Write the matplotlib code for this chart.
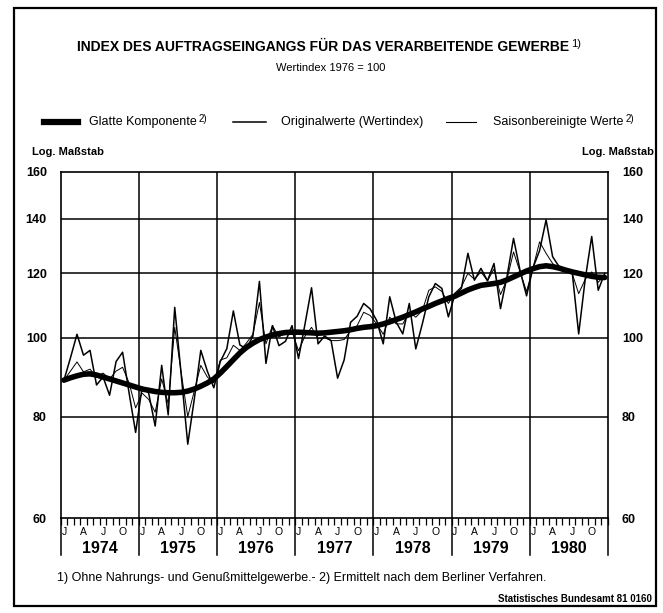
import matplotlib
matplotlib.use("Agg")
import matplotlib.pyplot as plt
import matplotlib.transforms as mtransforms
import numpy as np

plt.rcParams['font.family'] = ['Liberation Sans', 'DejaVu Sans']

years = [1974, 1975, 1976, 1977, 1978, 1979, 1980]
month_letters = ['J', 'A', 'J', 'O']

original = [
    88.7, 94.5, 101.0, 95.2, 96.5, 87.5, 89.5, 85.0, 93.5, 96.0, 85.5, 76.5,
    87.0, 85.5, 77.9, 92.5, 80.4, 109.0, 90.0, 74.0, 84.0, 96.5, 91.0, 86.8,
    93.5, 97.0, 107.9, 98.0, 96.9, 100.5, 117.3, 93.0, 103.5, 97.8, 99.0, 103.5,
    94.3, 104.0, 115.2, 98.3, 100.5, 99.2, 89.2, 93.9, 104.5, 106.3, 110.2, 108.5,
    105.0, 98.3, 112.3, 104.5, 101.1, 110.2, 96.9, 104.0, 112.3, 116.6, 115.0, 106.1,
    113.0, 115.0, 127.0, 117.7, 121.7, 117.5, 123.4, 108.6, 119.0, 132.5, 121.0, 112.6,
    122.0, 128.0, 139.6, 125.8, 122.3, 121.1, 120.5, 101.1, 118.0, 133.2, 114.4, 120.0,
]
seasonal = [
    88.7, 91.0, 93.4, 90.8, 91.5, 89.5, 90.5, 89.0, 91.0, 92.0, 88.0, 82.0,
    85.5, 84.0, 81.0, 89.0, 83.0, 103.0, 90.5, 80.0, 86.0, 92.5, 89.5, 88.0,
    93.9, 94.5, 97.9, 96.5, 98.5, 101.0, 110.5, 98.3, 103.5, 100.2, 101.5, 101.8,
    96.4, 100.5, 103.0, 99.7, 100.0, 99.2, 99.2, 99.5, 102.0, 103.5, 107.5, 106.5,
    104.0, 101.0, 106.0, 104.0, 104.0, 107.5, 106.0, 108.0, 114.4, 115.5, 114.0, 110.2,
    113.5, 115.5, 120.0, 118.0, 120.5, 117.5, 121.5, 113.0, 118.0, 127.5, 120.5, 114.0,
    122.0, 131.2, 127.0, 123.4, 121.5, 121.1, 120.0, 113.3, 118.0, 120.5, 117.0, 119.5,
]
smooth = [
    88.7, 89.3, 89.8, 90.2, 90.3, 90.0, 89.5, 89.0, 88.5, 88.0, 87.5, 87.0,
    86.5, 86.2, 85.9, 85.7, 85.6, 85.6, 85.7, 86.0, 86.5, 87.2, 88.0, 89.0,
    90.5, 92.2, 94.0, 95.8, 97.3, 98.5, 99.5, 100.2, 100.8, 101.2, 101.5, 101.6,
    101.6, 101.5, 101.4, 101.3, 101.4, 101.6, 101.8, 102.0, 102.3, 102.7, 103.0, 103.2,
    103.5, 104.0, 104.6, 105.3, 106.0, 106.8, 107.6, 108.5, 109.3, 110.2, 111.0, 111.8,
    112.5, 113.5, 114.5, 115.3, 116.0, 116.3, 116.6, 117.0, 117.8, 118.8, 119.8, 120.8,
    121.6, 122.3, 122.6, 122.3, 121.8, 121.1, 120.5, 120.0, 119.5, 119.0, 118.7, 118.6,
]
y_ticks = [60, 80, 100, 120, 140, 160]

W, H = 663, 613
fig = plt.figure(figsize=(W / 100, H / 100), dpi=100)
fig.patch.set_facecolor('white')
renderer = fig.canvas.get_renderer()

def fx(x):
    return x / W

def fy(y):
    return 1 - y / H

def sup_after(txt, s, dy=4, size=7):
    bb = txt.get_window_extent(renderer=renderer)
    fig.text((bb.x1 + 2) / W, (bb.y0 + bb.y1) / 2 / H + dy / H, s,
             ha='left', va='center', fontsize=size)

L, R, T, B = 60.7, 608.0, 171.7, 518.3
ax = fig.add_axes([fx(L), fy(B), fx(R) - fx(L), fy(T) - fy(B)])
ax.set_yscale('log')
ax.set_ylim(60, 160)
n_months = 12 * len(years)
ax.set_xlim(0, n_months)

xm = np.arange(len(original)) + 0.5
ax.plot(xm, original, color='black', lw=1.1, zorder=3)
ax.plot(xm, seasonal, color='black', lw=0.7, zorder=3)
ax.plot(xm, smooth, color='black', lw=4.0, solid_capstyle='round', zorder=4)

for v in y_ticks[1:-1]:
    ax.axhline(v, color='black', lw=1.1, zorder=1)
for k in range(1, len(years)):
    ax.axvline(12 * k, color='black', lw=1.1, zorder=1)
for s in ax.spines.values():
    s.set_linewidth(1.2)

ax.yaxis.set_minor_locator(matplotlib.ticker.NullLocator())
ax.set_yticks(y_ticks)
ax.set_yticklabels([str(v) for v in y_ticks])
ax.yaxis.set_minor_formatter(matplotlib.ticker.NullFormatter())
ax.tick_params(axis='y', which='both', length=0, labelsize=9, pad=10,
               left=True, right=True, labelleft=True, labelright=True)
for lab in ax.get_yticklabels() + ax.yaxis.get_ticklabels(which='major'):
    lab.set_fontweight('bold')

# months
ax.set_xticks(np.arange(0, n_months + 1), minor=True)
mid = []
lbl = []
for k in range(len(years)):
    for j, letter in enumerate(month_letters):
        mid.append(12 * k + 3 * j + 0.5)
        lbl.append(letter)
ax.set_xticks(mid)
ax.set_xticklabels(lbl)
ax.tick_params(axis='x', which='minor', direction='out', length=5, width=0.9)
ax.tick_params(axis='x', which='major', length=0, labelsize=7.5, pad=6)

trans = mtransforms.blended_transform_factory(ax.transData, ax.transAxes)
for k in range(len(years) + 1):
    ax.plot([12 * k, 12 * k], [0, -0.105], transform=trans, color='black',
            lw=1.1, clip_on=False)
for k, yr in enumerate(years):
    ax.text(12 * k + 6, -0.086, str(yr), transform=trans, ha='center',
            va='center', fontsize=11.5, fontweight='bold')

# titles
t = fig.text(fx(323), fy(47), 'INDEX DES AUFTRAGSEINGANGS FÜR DAS VERARBEITENDE GEWERBE',
             ha='center', va='center', fontsize=10, fontweight='bold')
sup_after(t, '1)', dy=3, size=8)
fig.text(fx(331), fy(68), 'Wertindex 1976 = 100', ha='center', va='center', fontsize=8)

# legend
ly = fy(122)
fig.add_artist(plt.Line2D([fx(44), fx(78)], [ly, ly], color='black', lw=4.5))
t1 = fig.text(fx(89), ly, 'Glatte Komponente', ha='left', va='center', fontsize=9)
sup_after(t1, '2)', dy=3, size=7)
fig.add_artist(plt.Line2D([fx(233), fx(266)], [ly, ly], color='black', lw=1.1))
fig.text(fx(281), ly, 'Originalwerte (Wertindex)', ha='left', va='center', fontsize=9)
fig.add_artist(plt.Line2D([fx(446), fx(476)], [ly, ly], color='black', lw=0.8))
t3 = fig.text(fx(493), ly, 'Saisonbereinigte Werte', ha='left', va='center', fontsize=9)
sup_after(t3, '2)', dy=3, size=7)

fig.text(fx(32), fy(152), 'Log. Maßstab', ha='left', va='center', fontsize=8, fontweight='bold')
fig.text(fx(654), fy(152), 'Log. Maßstab', ha='right', va='center', fontsize=8, fontweight='bold')

fig.text(fx(57), fy(578),
         '1) Ohne Nahrungs- und Genußmittelgewerbe.- 2) Ermittelt nach dem Berliner Verfahren.',
         ha='left', va='center', fontsize=9)
fig.text(fx(652), fy(599), 'Statistisches Bundesamt 81 0160', ha='right', va='center',
         fontsize=7, fontweight='bold')

# outer frame
fig.add_artist(plt.Rectangle((fx(14), fy(606)), fx(656) - fx(14), fy(8) - fy(606),
                             fill=False, ec='black', lw=1.6, transform=fig.transFigure))

fig.savefig('out.png', dpi=100, facecolor='white')
